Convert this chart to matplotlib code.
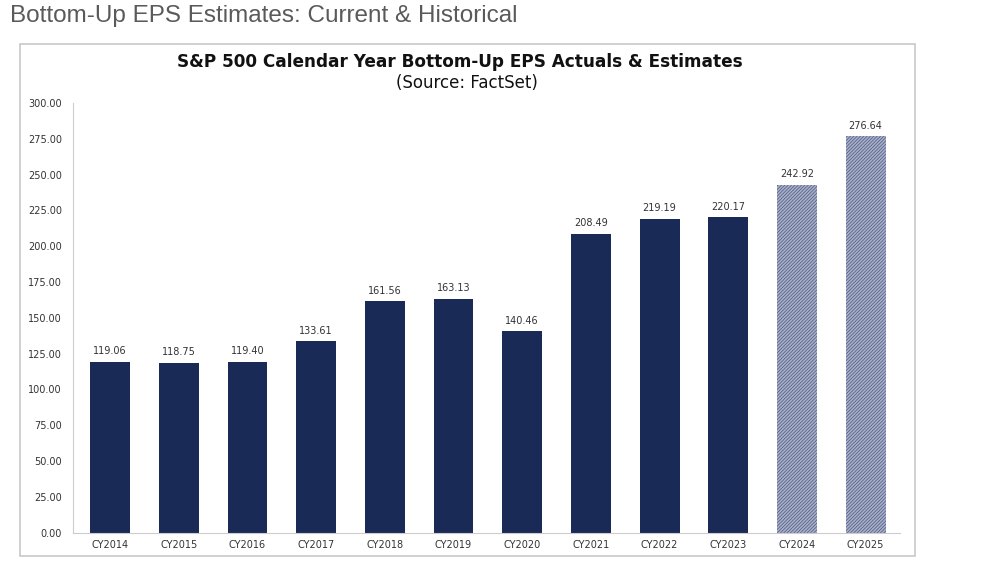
import matplotlib
matplotlib.use("Agg")
import matplotlib.pyplot as plt
from matplotlib.patches import Rectangle

years = ["CY2014", "CY2015", "CY2016", "CY2017", "CY2018", "CY2019",
         "CY2020", "CY2021", "CY2022", "CY2023", "CY2024", "CY2025"]
eps = [119.06, 118.75, 119.40, 133.61, 161.56, 163.13,
       140.46, 208.49, 219.19, 220.17, 242.92, 276.64]
is_estimate = [False] * 10 + [True, True]
yticks = [0, 25, 50, 75, 100, 125, 150, 175, 200, 225, 250, 275, 300]

navy = "#1a2a56"
plt.rcParams["font.family"] = ["DejaVu Sans"]
plt.rcParams["hatch.linewidth"] = 0.5

fig = plt.figure(figsize=(10, 5.62), dpi=100)

# page heading and chart frame
fig.text(0.01, 0.971, "Bottom-Up EPS Estimates: Current & Historical",
         fontsize=17.5, color="#5a5a5a", va="center", ha="left", family="Liberation Sans")
fig.patches.append(Rectangle((0.02, 0.011), 0.895, 0.911, transform=fig.transFigure,
                             fill=False, edgecolor="#c8c8c8", linewidth=1.2))
fig.text(0.46, 0.889, "S&P 500 Calendar Year Bottom-Up EPS Actuals & Estimates",
         fontsize=12.2, fontweight="bold", ha="center", va="center", color="#111111")
fig.text(0.467, 0.853, "(Source: FactSet)", fontsize=12, ha="center",
         va="center", color="#111111")

ax = fig.add_axes([0.073, 0.052, 0.827, 0.765])
x = list(range(len(years)))
for i, (v, est) in enumerate(zip(eps, is_estimate)):
    if est:
        ax.bar(i, v, width=0.58, color="#aab0c8", edgecolor="#4a5682", hatch="//////////",
               linewidth=0)
    else:
        ax.bar(i, v, width=0.58, color=navy, linewidth=0)
    ax.text(i, v + 4, f"{v:.2f}", ha="center", va="bottom", fontsize=7, color="#333333")

ax.set_xlim(-0.54, 11.5)
ax.set_ylim(0, 300)
ax.set_yticks(yticks)
ax.set_yticklabels([f"{t:.2f}" for t in yticks])
ax.set_xticks(x)
ax.set_xticklabels(years)
ax.tick_params(axis="both", length=0, labelsize=7, colors="#333333")
ax.tick_params(axis="x", pad=5)
ax.tick_params(axis="y", pad=8)
for s in ["top", "right"]:
    ax.spines[s].set_visible(False)
ax.spines["left"].set_color("#cccccc")
ax.spines["bottom"].set_color("#cccccc")

fig.savefig("out.png", dpi=100)
